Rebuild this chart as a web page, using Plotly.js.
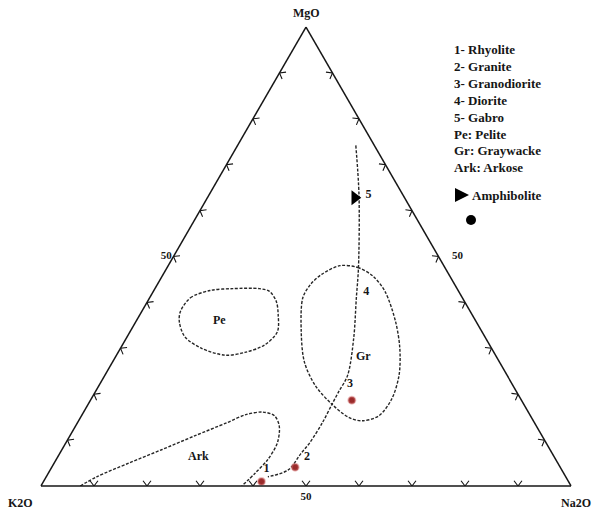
<!DOCTYPE html>
<html>
<head>
<meta charset="utf-8">
<script src="https://cdn.plot.ly/plotly-3.0.1.min.js"></script>
<style>
  html, body { margin: 0; padding: 0; background: #fff; }
  #chart { width: 598px; height: 511px; }
</style>
</head>
<body>
<div id="chart"></div>
<script>
// All compositions are ternary percentages: MgO (top), K2O (left), Na2O (right).

// Chevron ticks on every edge, and the one value that carries a label
const tickSteps = [10, 20, 30, 40, 50, 60, 70, 80, 90];
const labelledTicks = [50];
const labelledTickText = ['50'];

// Differentiation trend from gabbro down to rhyolite
const trendMgO  = [74.2, 63.4, 47.6, 41.0, 32.2, 24.1, 20.5, 17.8, 13.9,  9.5,  7.0,  3.5,  2.0];
const trendK2O  = [ 3.5,  8.3, 16.3, 20.0, 24.9, 30.1, 33.6, 36.2, 39.9, 44.5, 47.5, 51.6, 56.2];
const trendNa2O = [22.3, 28.3, 36.1, 39.0, 42.9, 45.8, 45.9, 46.0, 46.2, 46.0, 45.5, 44.9, 41.8];

// Pelite field
const peMgO  = [38.0, 41.0, 42.6, 43.0, 43.0, 42.4, 40.2, 37.3, 33.6, 30.7, 29.1, 28.5, 30.0, 32.5, 35.8, 38.0];
const peK2O  = [54.7, 51.3, 46.8, 42.3, 37.3, 35.7, 35.5, 36.6, 38.6, 42.5, 47.0, 51.0, 54.7, 56.6, 56.0, 54.7];
const peNa2O = [ 7.3,  7.7, 10.6, 14.7, 19.7, 21.9, 24.3, 26.1, 27.8, 26.8, 23.9, 20.5, 15.3, 10.9,  8.2,  7.3];

// Graywacke field
const grMgO  = [48.0, 47.6, 45.7, 42.4, 35.8, 30.0, 24.1, 18.9, 15.3, 14.2, 14.9, 17.8, 21.9, 27.0, 33.6, 41.0, 43.9, 46.1, 48.0];
const grK2O  = [19.6, 16.4, 14.5, 13.9, 15.2, 17.3, 20.4, 24.4, 28.6, 32.3, 34.4, 36.2, 37.3, 36.8, 34.1, 30.1, 27.2, 24.0, 19.6];
const grNa2O = [32.4, 36.0, 39.8, 43.7, 49.0, 52.7, 55.5, 56.7, 56.1, 53.5, 50.7, 46.0, 40.8, 36.2, 32.3, 28.9, 28.9, 29.9, 32.4];

// Arkose field (closed by the K2O-Na2O edge)
const arkMgO  = [ 0.0,  2.0,  5.0,  7.9, 10.9, 13.8, 15.6, 16.1, 15.3, 13.1,  9.4,  5.7,  2.8,  0.0];
const arkK2O  = [92.6, 88.5, 80.9, 73.3, 65.6, 58.0, 53.4, 50.1, 48.3, 48.5, 50.7, 54.4, 58.2, 62.1];
const arkNa2O = [ 7.4,  9.5, 14.1, 18.8, 23.5, 28.2, 31.0, 33.8, 36.4, 38.4, 39.9, 39.9, 39.0, 37.9];

// Analysed samples
const sampleMgO  = [ 1.0,  4.1, 18.7];
const sampleK2O  = [57.9, 50.0, 32.0];
const sampleNa2O = [41.1, 45.9, 49.3];

// Amphibolite
const amphMgO  = [62.8];
const amphK2O  = [ 9.4];
const amphNa2O = [27.8];

// Field and trend labels
const labelText = ['1', '2', '3', '4', '5', 'Pe', 'Gr', 'Ark'];
const labelMgO  = [ 3.7,  6.4, 22.2, 42.3, 63.4, 35.9, 28.2,  6.4];
const labelK2O  = [55.6, 46.6, 30.6, 17.5,  6.5, 48.4, 25.1, 67.1];
const labelNa2O = [40.7, 47.0, 47.2, 40.2, 30.1, 15.7, 46.7, 26.5];

// Apex names
const apexTop = 'MgO', apexLeft = 'K2O', apexRight = 'Na2O';

// Key entries
const keyLines = ['1- Rhyolite', '2- Granite', '3- Granodiorite', '4- Diorite', '5- Gabro',
                  'Pe: Pelite', 'Gr: Graywacke', 'Ark: Arkose'];
const amphName = 'Amphibolite';

// ---------------------------------------------------------------------------
const SERIF = 'Liberation Serif, Times New Roman, serif';
const INK = '#161616';
const W = 598, H = 511;
const M = {l: 41, r: 27, t: 27, b: 25};
const plotW = W - M.l - M.r, plotH = H - M.t - M.b;
const px = x => (x - M.l) / plotW;          // pixel -> paper x
const py = y => (H - M.b - y) / plotH;      // pixel -> paper y

// Build V-shaped ticks: vertex on the edge, arms opening into the triangle.
function chevrons() {
  const a = [], b = [], c = [];
  const half = 0.75, depth = 1.15;
  const edges = [
    t => ({v: [0, 100 - t, t], along: [0, -1, 1], inward: [1, -0.5, -0.5]}),   // K2O–Na2O
    t => ({v: [t, 100 - t, 0], along: [1, -1, 0], inward: [-0.5, -0.5, 1]}),   // K2O–MgO
    t => ({v: [t, 0, 100 - t], along: [1, 0, -1], inward: [-0.5, 1, -0.5]})    // MgO–Na2O
  ];
  edges.forEach(edge => {
    tickSteps.forEach(t => {
      const e = edge(t);
      const arm = s => e.v.map((x, i) => x + s * half * e.along[i] + depth * e.inward[i]);
      [arm(-1), e.v, arm(1)].forEach(p => { a.push(p[0]); b.push(p[1]); c.push(p[2]); });
      a.push(null); b.push(null); c.push(null);
    });
  });
  return {a, b, c};
}
const chev = chevrons();

const dashed = {color: '#262626', width: 1.4, dash: '3px,1.6px', shape: 'spline', smoothing: 0.9};

function field(aArr, bArr, cArr) {
  return {
    type: 'scatterternary', mode: 'lines',
    a: aArr, b: bArr, c: cArr,
    line: dashed, hoverinfo: 'skip', showlegend: false, cliponaxis: false
  };
}

const traces = [
  {
    type: 'scatterternary', mode: 'lines',
    a: chev.a, b: chev.b, c: chev.c,
    line: {color: INK, width: 1.1}, hoverinfo: 'skip', showlegend: false, cliponaxis: false
  },
  field(peMgO, peK2O, peNa2O),
  field(grMgO, grK2O, grNa2O),
  field(arkMgO, arkK2O, arkNa2O),
  field(trendMgO, trendK2O, trendNa2O),
  {
    type: 'scatterternary', mode: 'markers', name: 'Samples',
    a: sampleMgO, b: sampleK2O, c: sampleNa2O,
    marker: {color: '#9a2b2b', size: 7, line: {color: 'rgba(215,120,120,0.45)', width: 2}},
    showlegend: false, cliponaxis: false
  },
  {
    type: 'scatterternary', mode: 'markers', name: amphName,
    a: amphMgO, b: amphK2O, c: amphNa2O,
    marker: {color: '#000', size: 13, symbol: 'triangle-right'},
    showlegend: false, cliponaxis: false
  },
  {
    type: 'scatterternary', mode: 'text',
    a: labelMgO, b: labelK2O, c: labelNa2O, text: labelText,
    textposition: 'middle center',
    textfont: {family: SERIF, size: 12, color: INK, weight: 'bold'},
    hoverinfo: 'skip', showlegend: false, cliponaxis: false
  }
];

const boldFont = (size) => ({family: SERIF, size: size, color: INK, weight: 'bold'});

function axis(extra) {
  return Object.assign({
    title: {text: ''},
    min: 0,
    tickmode: 'array', tickvals: labelledTicks, ticktext: labelledTickText,
    ticks: '', showgrid: false,
    showline: true, linecolor: INK, linewidth: 1.5,
    tickfont: boldFont(11)
  }, extra || {});
}

// Free-standing text placed at pixel positions on the page
function note(text, x, y, size, anchor) {
  return {
    xref: 'paper', yref: 'paper', x: px(x), y: py(y),
    xanchor: anchor || 'center', yanchor: 'middle', align: 'left',
    text: text, showarrow: false, font: boldFont(size)
  };
}

const layout = {
  width: W, height: H,
  margin: M,
  paper_bgcolor: '#fff',
  showlegend: false,
  ternary: {
    sum: 100,
    bgcolor: '#fff',
    domain: {x: [0, 1], y: [0, 1]},
    aaxis: axis(),
    baxis: axis(),
    // the right-edge label is set a little further out as an annotation
    caxis: axis({showticklabels: false})
  },
  annotations: [
    note(apexTop, 306, 13, 12),
    note(apexLeft, 20, 503, 12),
    note(apexRight, 576, 503, 12),
    note(labelledTickText[0], 458, 255, 11),
    note(keyLines.join('<br>'), 452, 109, 13, 'left'),
    note(amphName, 470, 195, 13, 'left')
  ],
  shapes: [
    {
      type: 'path', xref: 'paper', yref: 'paper',
      path: `M ${px(455)},${py(188)} L ${px(469)},${py(195)} L ${px(455)},${py(202)} Z`,
      fillcolor: '#000', line: {width: 0}
    },
    {
      type: 'circle', xref: 'paper', yref: 'paper',
      x0: px(466), x1: px(476), y0: py(225), y1: py(215),
      fillcolor: '#000', line: {width: 0}
    }
  ]
};

Plotly.newPlot('chart', traces, layout, {displayModeBar: false, staticPlot: true});
</script>
</body>
</html>
